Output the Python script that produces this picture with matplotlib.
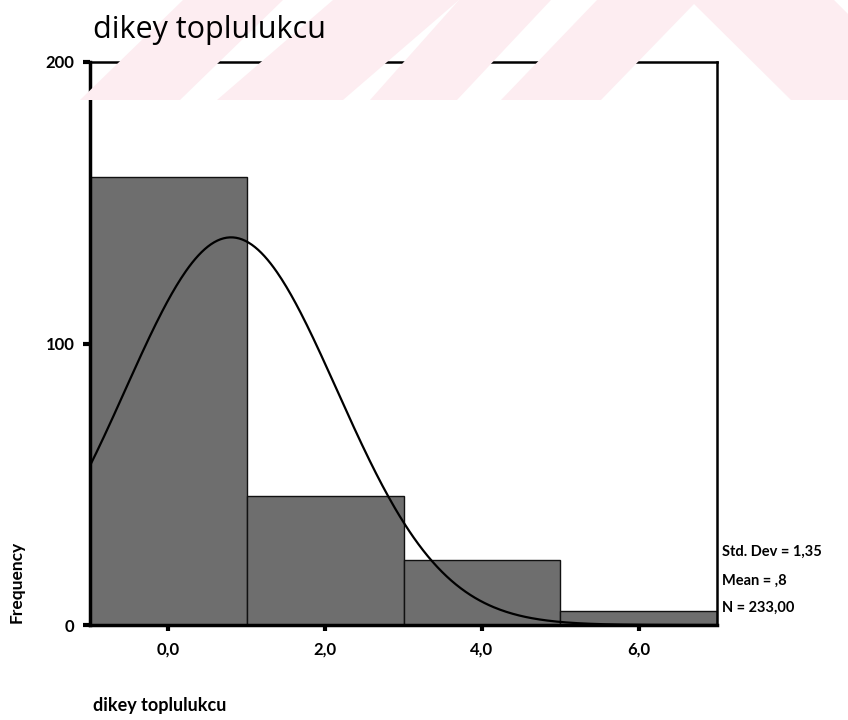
import numpy as np
import matplotlib.pyplot as plt
from matplotlib.patches import Polygon

# histogram bins and counts
bin_edges = [-1, 1, 3, 5, 7]
counts = [159, 46, 23, 5]
std_dev = 1.35
mean = 0.8
n_cases = 233
xticks = [0, 2, 4, 6]
xtick_labels = ["0,0", "2,0", "4,0", "6,0"]
yticks = [0, 100, 200]
stats = ["Std. Dev = 1,35", "Mean = ,8", "N = 233,00"]

W, H = 848, 720
fig = plt.figure(figsize=(W / 100, H / 100), dpi=100)

# faint pink stripes in the page header
pink = "#fdedf1"
stripes = [
    [(80, 100), (180, 100), (283, 0), (183, 0)],
    [(217, 100), (343, 100), (459, 0), (333, 0)],
    [(370, 100), (457, 100), (551, 0), (459, 0)],
    [(501, 100), (597, 0), (834, 0), (848, 14), (848, 100), (791, 100),
     (694, 4), (601, 100)],
]
for pts in stripes:
    fig.patches.append(Polygon([(x / W, 1 - y / H) for x, y in pts],
                               closed=True, transform=fig.transFigure,
                               facecolor=pink, edgecolor="none", zorder=0))

ax = fig.add_axes([90 / W, 95 / H, 627 / W, 563 / H])
ax.set_facecolor("none")

widths = np.diff(bin_edges)
ax.bar(bin_edges[:-1], counts, width=widths, align="edge",
       color="#6e6e6e", edgecolor="#111111", linewidth=1.0, zorder=2)

# fitted normal curve
xs = np.linspace(bin_edges[0], bin_edges[-1], 400)
bw = widths[0]
ys = n_cases * bw / (std_dev * np.sqrt(2 * np.pi)) * np.exp(-0.5 * ((xs - mean) / std_dev) ** 2)
ax.plot(xs, ys, color="black", lw=1.6, zorder=3)

ax.set_xlim(bin_edges[0], bin_edges[-1])
ax.set_ylim(0, 200)
ax.set_xticks(xticks)
ax.set_xticklabels(xtick_labels, fontsize=12, fontweight="bold", family="Lato")
ax.set_yticks(yticks)
ax.set_yticklabels([str(v) for v in yticks], fontsize=12, fontweight="bold", family="Lato")
ax.tick_params(axis="x", length=4, width=3, pad=8, direction="out")
ax.tick_params(axis="y", length=5, width=3, pad=6, direction="out")
for side in ["left", "bottom"]:
    ax.spines[side].set_linewidth(2.5)
for side in ["top", "right"]:
    ax.spines[side].set_linewidth(1.8)

fig.text(93 / W, 1 - 30 / H, "dikey toplulukcu", fontsize=22, family="Open Sans",
         ha="left", va="center")
fig.text(93 / W, 1 - 706 / H, "dikey toplulukcu", fontsize=13, family="Lato",
         fontweight="bold", ha="left", va="center")
fig.text(17 / W, 1 - 582 / H, "Frequency", fontsize=12.5, family="Lato",
         fontweight="bold", rotation=90, ha="center", va="center")

for label, y in zip(stats, [552, 581, 608]):
    fig.text(722 / W, 1 - y / H, label, fontsize=10.5, family="Lato",
             fontweight="bold", ha="left", va="center")

fig.savefig("out.png", dpi=100)
